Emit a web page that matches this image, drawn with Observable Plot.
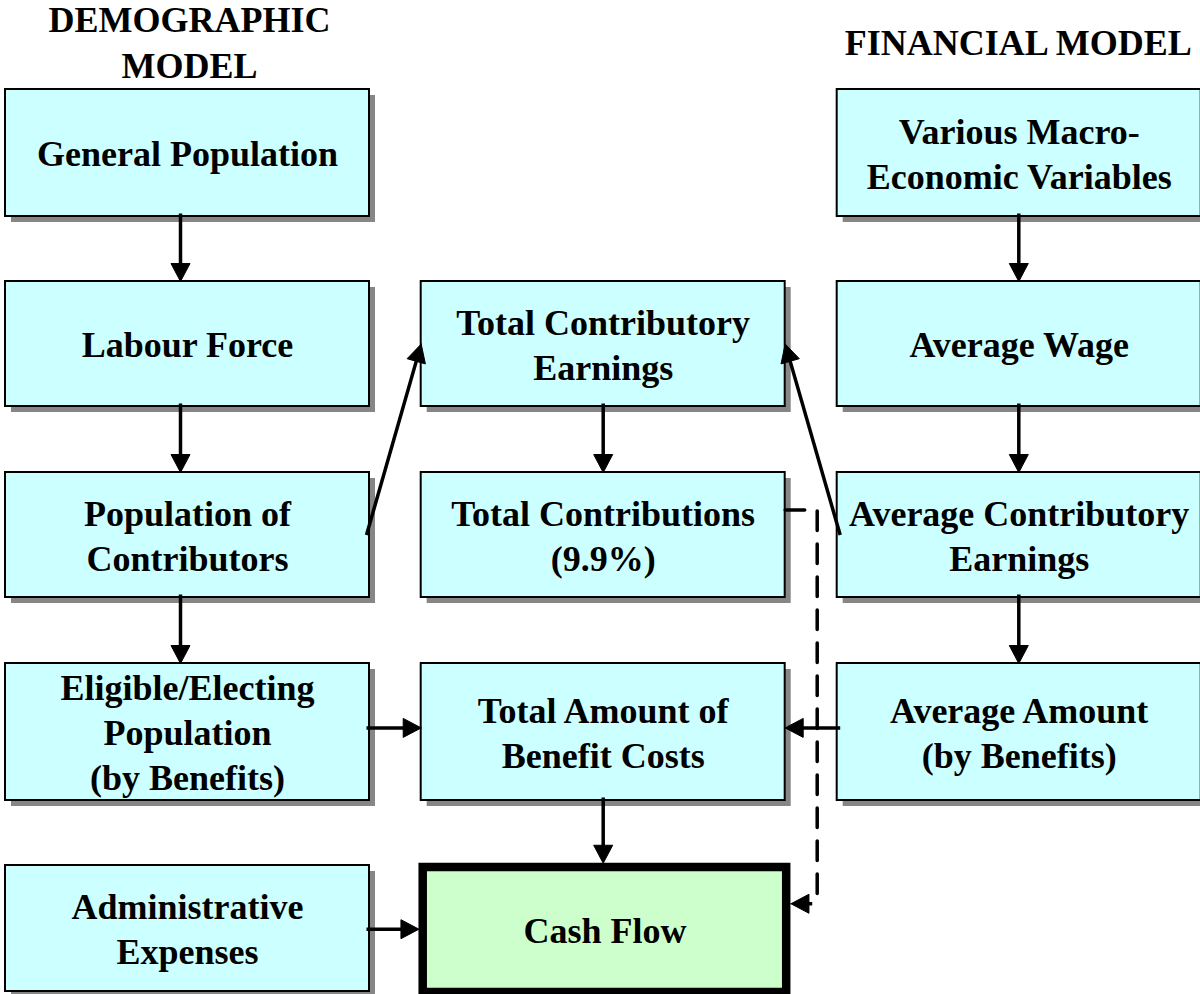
<!DOCTYPE html>
<html>
<head>
<meta charset="utf-8">
<script src="https://cdn.jsdelivr.net/npm/d3@7"></script>
<script src="https://cdn.jsdelivr.net/npm/@observablehq/plot@0.6"></script>
<style>
  html, body { margin: 0; padding: 0; background: #ffffff; }
  #chart svg { display: block; }
</style>
</head>
<body>
<div id="chart"></div>
<script>
// ---------------- data ----------------
const headings = ["DEMOGRAPHIC\nMODEL", "FINANCIAL MODEL"];
const headingCols = [0, 2];

const nodeIds = ["gen", "lab", "pop", "elig", "admin", "tce", "tc", "amt", "cash", "macro", "wage", "ace", "avg"];
const nodeLabels = [
  "General Population",
  "Labour Force",
  "Population of\nContributors",
  "Eligible/Electing\nPopulation\n(by Benefits)",
  "Administrative\nExpenses",
  "Total Contributory\nEarnings",
  "Total Contributions\n(9.9%)",
  "Total Amount of\nBenefit Costs",
  "Cash Flow",
  "Various Macro-\nEconomic Variables",
  "Average Wage",
  "Average Contributory\nEarnings",
  "Average Amount\n(by Benefits)"
];
const nodeCols = [0, 0, 0, 0, 0, 1, 1, 1, 1, 2, 2, 2, 2];
const nodeRows = [0, 1, 2, 3, 4, 1, 2, 3, 4, 0, 1, 2, 3];
const nodeKinds = ["input", "input", "input", "input", "input", "input", "input", "input", "result", "input", "input", "input", "input"];

const edgeFrom = ["gen", "lab", "pop", "macro", "wage", "ace", "tce", "pop", "ace", "elig", "avg", "amt", "admin"];
const edgeTo   = ["lab", "pop", "elig", "wage", "ace", "avg", "tc", "tce", "tce", "amt", "amt", "cash", "cash"];

const dashedFrom = ["tc"];
const dashedTo = ["cash"];

// ---------------- layout ----------------
const W = 1200, H = 994;
const colLeft = [5, 420.7, 836.7];
const boxW = 364;
const rowTop = [89, 281, 472, 663, 865];
const rowBottom = [216, 406, 597, 800, 991];
const colArrowX = [180, 602.7, 1018.3];
const thick = 8.5;
const headLen = 18, headHalf = 9.5;
const shadowOff = 6;

const nodes = nodeIds.map((id, i) => {
  const c = nodeCols[i], r = nodeRows[i];
  const result = nodeKinds[i] === "result";
  let x1 = colLeft[c], x2 = colLeft[c] + boxW, y1 = rowTop[r], y2 = rowBottom[r];
  if (result) { x1 += 2; x2 += 1.5; y1 += 2; y2 += 1; }
  const pad = result ? thick / 2 : 0;
  return {id, label: nodeLabels[i], c, r, result, x1, x2, y1, y2,
    ox1: x1 - pad, ox2: x2 + pad, oy1: y1 - pad, oy2: y2 + pad,
    cx: (x1 + x2) / 2, cy: (y1 + y2) / 2};
});
const byId = Object.fromEntries(nodes.map(d => [d.id, d]));

const shafts = [];
const heads = [];
function addArrow(key, sx, sy, tx, ty) {
  const dx = tx - sx, dy = ty - sy, len = Math.hypot(dx, dy);
  const ux = dx / len, uy = dy / len, nx = -uy, ny = ux;
  const bx = tx - headLen * ux, by = ty - headLen * uy;
  shafts.push({x1: sx, y1: sy, x2: tx - (headLen - 2) * ux, y2: ty - (headLen - 2) * uy});
  heads.push({k: key, x: tx, y: ty});
  heads.push({k: key, x: bx + headHalf * nx, y: by + headHalf * ny});
  heads.push({k: key, x: bx - headHalf * nx, y: by - headHalf * ny});
  heads.push({k: key, x: tx, y: ty});
}

edgeFrom.forEach((f, i) => {
  const s = byId[f], t = byId[edgeTo[i]];
  const key = "e" + i;
  if (s.c === t.c) {
    const x = colArrowX[s.c];
    addArrow(key, x, s.oy2 - 3, x, t.oy1);
  } else if (s.r === t.r) {
    // horizontal link between boxes of the same row
    const yy = Math.min(s.y1, t.y1) + 0.47 * (Math.max(s.y2, t.y2) - Math.min(s.y1, t.y1)) + (s.r === 3 ? 0 : 4);
    if (t.c > s.c) addArrow(key, s.ox2 - 3, yy, t.ox1, yy);
    else addArrow(key, s.ox1 + 3, yy, t.ox2, yy);
  } else if (t.c > s.c) {
    addArrow(key, s.ox2 - 3, s.cy, t.ox1, t.cy);
  } else {
    addArrow(key, s.ox1 + 3, s.cy, t.ox2, t.cy);
  }
});

const dashPts = [];
dashedFrom.forEach((f, i) => {
  const s = byId[f], t = byId[dashedTo[i]];
  const gx = colLeft[2] - 20;
  const yA = s.y1 + 0.3 * (s.y2 - s.y1);
  const yB = t.y1 + 0.29 * (t.y2 - t.y1);
  dashPts.push({k: "d" + i, x: s.ox2, y: yA}, {k: "d" + i, x: gx, y: yA}, {k: "d" + i, x: gx, y: yB - 5});
  addArrow("d" + i, gx - 5, yB, t.ox2, yB);
});

const headingData = headings.map((h, i) => ({
  text: h,
  x: colLeft[headingCols[i]] + boxW / 2 + (headingCols[i] === 0 ? 2 : -1),
  y: 40
}));

const font = "'Liberation Serif', 'Times New Roman', Times, serif";

const chart = Plot.plot({
  width: W,
  height: H,
  margin: 0,
  x: {domain: [0, W], range: [0, W], axis: null},
  y: {domain: [0, H], range: [0, H], axis: null},
  style: {background: "#ffffff"},
  marks: [
    Plot.rect(nodes.filter(d => !d.result), {
      x1: d => d.x1 + shadowOff, x2: d => d.x2 + shadowOff,
      y1: d => d.y1 + shadowOff, y2: d => d.y2 + shadowOff,
      fill: "#868686"
    }),
    Plot.rect(nodes.filter(d => !d.result), {
      x1: "x1", x2: "x2", y1: "y1", y2: "y2",
      fill: "#ccffff", stroke: "#000000", strokeWidth: 2
    }),
    Plot.rect(nodes.filter(d => d.result), {
      x1: "x1", x2: "x2", y1: "y1", y2: "y2",
      fill: "#ccffcc", stroke: "#000000", strokeWidth: thick
    }),
    Plot.text(nodes, {
      x: "cx", y: d => d.cy - 1, text: "label",
      fontSize: 36, fontWeight: "bold", fontFamily: font,
      lineHeight: 1.25, fill: "#000000", textAnchor: "middle"
    }),
    Plot.text(headingData, {
      x: "x", y: "y", text: "text",
      fontSize: 36, fontWeight: "bold", fontFamily: font,
      lineHeight: 1.28, fill: "#000000", textAnchor: "middle"
    }),
    Plot.line(dashPts, {
      x: "x", y: "y", z: "k",
      stroke: "#000000", strokeWidth: 3.5,
      strokeDasharray: "19.5,13.5", strokeLinecap: "round", strokeLinejoin: "miter"
    }),
    Plot.link(shafts, {
      x1: "x1", y1: "y1", x2: "x2", y2: "y2",
      stroke: "#000000", strokeWidth: 3.5
    }),
    Plot.line(heads, {
      x: "x", y: "y", z: "k",
      fill: "#000000", stroke: "#000000", strokeWidth: 1,
      strokeLinejoin: "miter", strokeMiterlimit: 10
    })
  ]
});

document.getElementById("chart").appendChild(chart);
</script>
</body>
</html>
